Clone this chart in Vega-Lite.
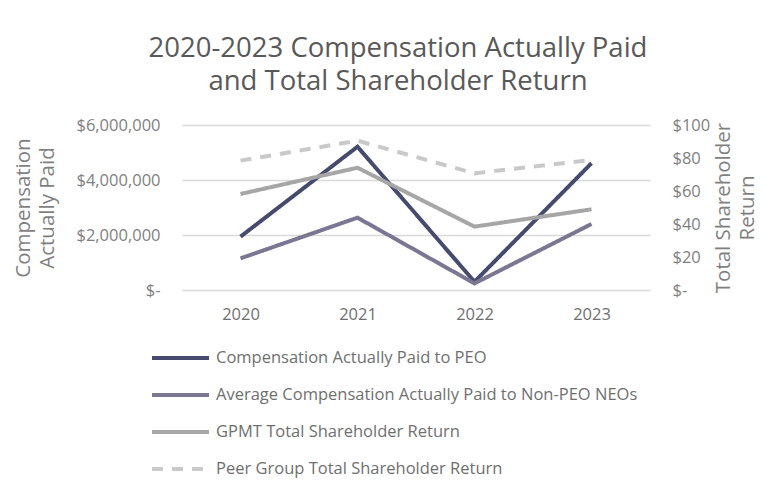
{
  "$schema": "https://vega.github.io/schema/vega-lite/v6.json",
  "autosize": {"type": "none"},
  "width": 468,
  "height": 165,
  "padding": {"left": 182, "top": 125, "right": 113, "bottom": 201},
  "background": "white",
  "title": {
    "text": ["2020-2023 Compensation Actually Paid", "and Total Shareholder Return"],
    "fontSize": 27.5,
    "font": "Open Sans",
    "fontWeight": "normal",
    "color": "#595959",
    "anchor": "middle",
    "dx": -18,
    "offset": 22,
    "lineHeight": 33
  },
  "config": {
    "view": {"stroke": null},
    "font": "Open Sans",
    "axis": {
      "labelFont": "Open Sans",
      "titleFont": "Open Sans",
      "labelColor": "#7f7f7f",
      "titleColor": "#7f7f7f",
      "labelFontSize": 16.5,
      "titleFontSize": 20.5,
      "titleFontWeight": "normal",
      "titleLineHeight": 24,
      "ticks": false,
      "domain": false,
      "gridColor": "#d9d9d9",
      "gridWidth": 1.5
    }
  },
  "data": {
    "values": [
      {"year": "2020", "series": "Compensation Actually Paid to PEO", "value": 1940000},
      {"year": "2021", "series": "Compensation Actually Paid to PEO", "value": 5210000},
      {"year": "2022", "series": "Compensation Actually Paid to PEO", "value": 300000},
      {"year": "2023", "series": "Compensation Actually Paid to PEO", "value": 4610000},
      {"year": "2020", "series": "Average Compensation Actually Paid to Non-PEO NEOs", "value": 1150000},
      {"year": "2021", "series": "Average Compensation Actually Paid to Non-PEO NEOs", "value": 2630000},
      {"year": "2022", "series": "Average Compensation Actually Paid to Non-PEO NEOs", "value": 240000},
      {"year": "2023", "series": "Average Compensation Actually Paid to Non-PEO NEOs", "value": 2400000},
      {"year": "2020", "series": "GPMT Total Shareholder Return", "value": 58.2},
      {"year": "2021", "series": "GPMT Total Shareholder Return", "value": 74.1},
      {"year": "2022", "series": "GPMT Total Shareholder Return", "value": 38.4},
      {"year": "2023", "series": "GPMT Total Shareholder Return", "value": 48.9},
      {"year": "2020", "series": "Peer Group Total Shareholder Return", "value": 78.4},
      {"year": "2021", "series": "Peer Group Total Shareholder Return", "value": 90.5},
      {"year": "2022", "series": "Peer Group Total Shareholder Return", "value": 70.7},
      {"year": "2023", "series": "Peer Group Total Shareholder Return", "value": 78.8}
    ]
  },
  "encoding": {
    "x": {
      "field": "year",
      "type": "ordinal",
      "title": null,
      "axis": {"labelAngle": 0, "labelPadding": 16, "labelColor": "#6f6f6f", "grid": false}
    },
    "color": {
      "field": "series",
      "type": "nominal",
      "title": null,
      "scale": {
        "domain": ["Compensation Actually Paid to PEO", "Average Compensation Actually Paid to Non-PEO NEOs", "GPMT Total Shareholder Return", "Peer Group Total Shareholder Return"],
        "range": ["#464b6e", "#7b7793", "#a6a6a6", "#c9c9c9"]
      },
      "legend": {
        "orient": "none",
        "legendX": 8,
        "legendY": 221,
        "direction": "vertical",
        "symbolType": "M-5,0H0.7",
        "symbolSize": 400,
        "symbolStrokeWidth": 4,
        "labelFontSize": 16.5,
        "labelColor": "#6f6f6f",
        "labelFont": "Open Sans",
        "rowPadding": 16,
        "labelOffset": 2,
        "labelLimit": 600
      }
    },
    "strokeDash": {
      "field": "series",
      "type": "nominal",
      "title": null,
      "scale": {
        "domain": ["Compensation Actually Paid to PEO", "Average Compensation Actually Paid to Non-PEO NEOs", "GPMT Total Shareholder Return", "Peer Group Total Shareholder Return"],
        "range": [[1, 0], [1, 0], [1, 0], [11, 9]]
      },
      "legend": {
        "orient": "none",
        "legendX": 8,
        "legendY": 221,
        "direction": "vertical",
        "symbolType": "M-5,0H0.7",
        "symbolSize": 400,
        "symbolStrokeWidth": 4,
        "labelFontSize": 16.5,
        "labelColor": "#6f6f6f",
        "labelFont": "Open Sans",
        "rowPadding": 16,
        "labelOffset": 2,
        "labelLimit": 600
      }
    }
  },
  "layer": [
    {
      "transform": [{"filter": "datum.value > 1000"}],
      "mark": {"type": "line", "strokeWidth": 4},
      "encoding": {
        "y": {
          "field": "value",
          "type": "quantitative",
          "scale": {"domain": [0, 6000000]},
          "axis": {
            "orient": "left",
            "values": [0, 2000000, 4000000, 6000000],
            "labelExpr": "datum.value == 0 ? '$-' : format(datum.value, '$,.0f')",
            "labelPadding": 22,
            "title": ["Compensation", "Actually Paid"],
            "titlePadding": 18,
            "grid": true
          }
        }
      }
    },
    {
      "transform": [{"filter": "datum.value <= 1000"}],
      "mark": {"type": "line", "strokeWidth": 4},
      "encoding": {
        "y": {
          "field": "value",
          "type": "quantitative",
          "scale": {"domain": [0, 100]},
          "axis": {
            "orient": "right",
            "values": [0, 20, 40, 60, 80, 100],
            "labelExpr": "datum.value == 0 ? '$-' : '$' + datum.value",
            "labelPadding": 22,
            "title": ["Total Shareholder", "Return"],
            "titleAngle": -90,
            "titlePadding": 0,
            "grid": false
          }
        }
      }
    }
  ],
  "resolve": {"scale": {"y": "independent"}}
}
